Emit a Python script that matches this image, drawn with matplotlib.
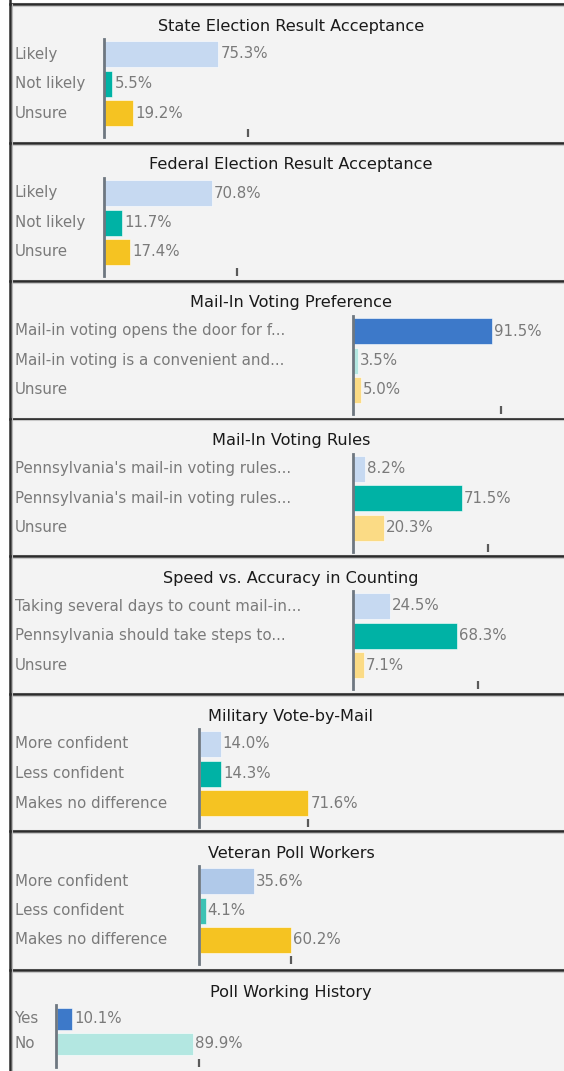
import matplotlib
matplotlib.use("Agg")
import matplotlib.pyplot as plt
from matplotlib.patches import Rectangle
from matplotlib.lines import Line2D

plt.rcParams['font.family'] = ['DejaVu Sans']

# survey panels
titles = ['State Election Result Acceptance', 'Federal Election Result Acceptance',
          'Mail-In Voting Preference', 'Mail-In Voting Rules',
          'Speed vs. Accuracy in Counting', 'Military Vote-by-Mail',
          'Veteran Poll Workers', 'Poll Working History']
labels = [
    ['Likely', 'Not likely', 'Unsure'],
    ['Likely', 'Not likely', 'Unsure'],
    ['Mail-in voting opens the door for f...', 'Mail-in voting is a convenient and...', 'Unsure'],
    ["Pennsylvania's mail-in voting rules...", "Pennsylvania's mail-in voting rules...", 'Unsure'],
    ['Taking several days to count mail-in...', 'Pennsylvania should take steps to...', 'Unsure'],
    ['More confident', 'Less confident', 'Makes no difference'],
    ['More confident', 'Less confident', 'Makes no difference'],
    ['Yes', 'No'],
]
values = [
    [75.3, 5.5, 19.2],
    [70.8, 11.7, 17.4],
    [91.5, 3.5, 5.0],
    [8.2, 71.5, 20.3],
    [24.5, 68.3, 7.1],
    [14.0, 14.3, 71.6],
    [35.6, 4.1, 60.2],
    [10.1, 89.9],
]
tick_values = [95, 88, 97.5, 89, 82.5, 71.6, 60.2, 94]

LB, TL, GD = '#c6d9f1', '#00b2a5', '#f5c322'
DB, LT, LG = '#3d79c9', '#b3e7e1', '#fbdb85'
colors = [
    [LB, TL, GD], [LB, TL, GD], [DB, LT, LG], [LB, TL, LG],
    [LB, TL, LG], [LB, TL, GD], ['#b0c9e9', '#3cc2b4', GD], [DB, LT],
]

# layout in pixels
W, H = 564, 1071
borders = [4, 143, 281, 419, 556, 694, 831, 970]
axis_x = [103.5, 103.5, 352.5, 352.5, 352.5, 199, 199, 56]
PPU = 1.52  # pixels per percent
LEFT = 10

fig = plt.figure(figsize=(W / 100, H / 100), dpi=100)
fig.patch.set_facecolor('white')


def fx(x):
    return x / W


def fy(y):
    return 1 - y / H


# panel backgrounds and borders
for i, b in enumerate(borders):
    end = borders[i + 1] if i + 1 < len(borders) else H
    fig.add_artist(Rectangle((fx(LEFT), fy(end)), fx(W - LEFT), (end - b) / H,
                             transform=fig.transFigure, facecolor='#f3f3f3',
                             edgecolor='none', zorder=0))
for b in borders:
    fig.add_artist(Line2D([fx(LEFT), 1], [fy(b - 1.5), fy(b - 1.5)], transform=fig.transFigure,
                          color='#b0b0b0', lw=0.8))
    fig.add_artist(Line2D([fx(LEFT), 1], [fy(b), fy(b)], transform=fig.transFigure,
                          color='#2b2b2b', lw=1.8))
    fig.add_artist(Line2D([fx(LEFT), 1], [fy(b + 1.5), fy(b + 1.5)], transform=fig.transFigure,
                          color='#c8c8c8', lw=0.8))
fig.add_artist(Line2D([fx(LEFT), fx(LEFT)], [1, 0], transform=fig.transFigure,
                      color='#2b2b2b', lw=1.8))
fig.add_artist(Line2D([fx(LEFT + 1.8), fx(LEFT + 1.8)], [fy(borders[0]), 0],
                      transform=fig.transFigure, color='#b8b8b8', lw=0.8))

for i, b in enumerate(borders):
    vals = values[i]
    n = len(vals)
    if n == 3:
        top, bot = b + 35, b + 133
        first, step, bh = 15, 29.5, 26
    else:
        top, bot = b + 35, b + 97
        first, step, bh = 13.5, 25.5, 22
    ax_left = axis_x[i]
    ax = fig.add_axes([fx(ax_left), fy(bot), fx(W - ax_left), (bot - top) / H])
    ax.set_facecolor('none')
    ax.set_xlim(0, (W - ax_left) / PPU)
    ax.set_ylim((bot - top - first) / step, -first / step)
    ys = list(range(n))
    ax.barh(ys, vals, height=bh / step, color=colors[i], left=0.35,
            edgecolor='white', linewidth=0.4, zorder=2)
    for y, v in zip(ys, vals):
        ax.text(v + 0.35 + 2 / PPU, y, f'{v:.1f}%', va='center', ha='left',
                fontsize=10.8, color='#7a7a7a')
        fig.text(fx(15), fy(top + first + y * step), labels[i][y], va='center',
                 ha='left', fontsize=10.8, color='#7a7a7a')
    for s in ['top', 'right', 'bottom']:
        ax.spines[s].set_visible(False)
    ax.spines['left'].set_color('#6e7780')
    ax.spines['left'].set_linewidth(2)
    ax.set_yticks([])
    ax.set_xticks([tick_values[i]])
    ax.set_xticklabels([])
    ax.tick_params(axis='x', direction='in', length=6, width=1.6, color='#5a5a5a')
    fig.text(fx(291), fy(b + 22), titles[i], ha='center', va='center',
             fontsize=11.6, color='#1a1a1a')

fig.savefig('out.png', dpi=100, facecolor='white')
